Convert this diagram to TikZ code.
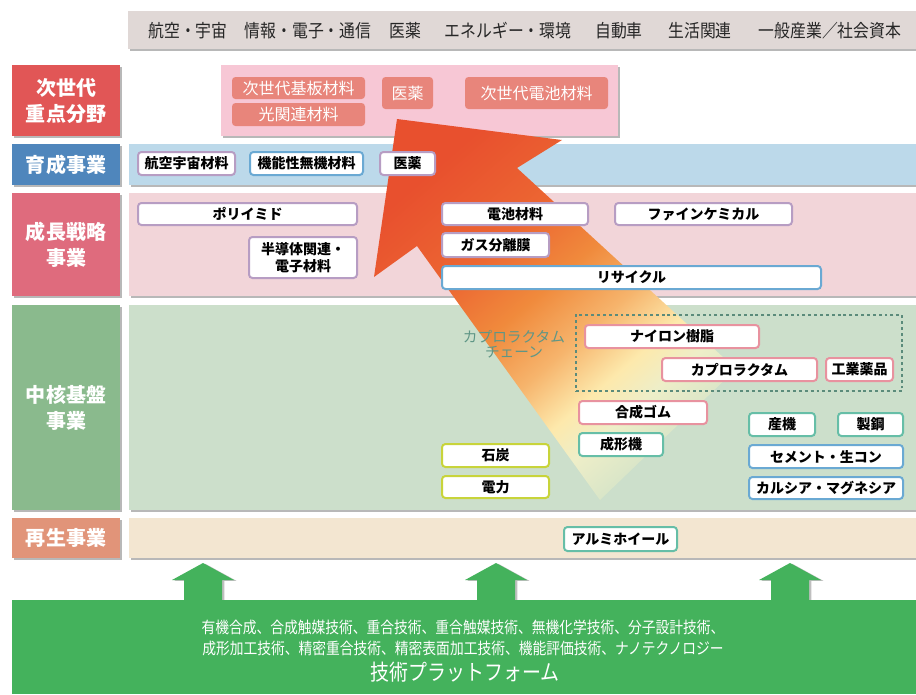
\documentclass[tikz,border=0pt]{standalone}
\usepackage{fontspec}
\setmainfont{Noto Sans CJK JP}
\newfontfamily\hdrfont[FakeStretch=0.88]{Noto Sans CJK JP}
\newfontfamily\btmfont[FakeStretch=0.86]{Noto Sans CJK JP}
\usetikzlibrary{shadows}
\definecolor{hdrgray}{HTML}{E0D8D6}
\definecolor{redlab}{HTML}{E15656}
\definecolor{bluelab}{HTML}{4F86BC}
\definecolor{pinklab}{HTML}{DF6B7D}
\definecolor{greenlab}{HTML}{8ABA8D}
\definecolor{salmonlab}{HTML}{E19479}
\definecolor{pinktop}{HTML}{F7C7D5}
\definecolor{salmonbox}{HTML}{E8857B}
\definecolor{blueband}{HTML}{BCD9EA}
\definecolor{pinkband}{HTML}{F2D5D9}
\definecolor{greenband}{HTML}{CCDFCB}
\definecolor{beigeband}{HTML}{F3E6D1}
\definecolor{platgreen}{HTML}{44B25C}
\definecolor{lav}{HTML}{B79DC3}
\definecolor{bluebd}{HTML}{6AA9D3}
\definecolor{pinkbd}{HTML}{E8929F}
\definecolor{tealbd}{HTML}{66BEA7}
\definecolor{ygbd}{HTML}{C8D43A}
\definecolor{dashgreen}{HTML}{5B8B7B}
\definecolor{chaintext}{HTML}{5F9686}
\definecolor{arA}{HTML}{E8502E}
\definecolor{arB}{HTML}{EC6632}
\definecolor{arC}{HTML}{F08A3C}
\definecolor{arD}{HTML}{F6B46C}
\definecolor{arE}{HTML}{FDE9AC}
\definecolor{arF}{HTML}{EEEEC8}
\definecolor{arG}{HTML}{D3E3C8}
\pgfdeclareverticalshading{bigarrow}{100bp}{color(0bp)=(arG); color(25bp)=(arG); color(33bp)=(arF); color(38bp)=(arE); color(45bp)=(arD); color(53bp)=(arC); color(62bp)=(arB); color(75bp)=(arA); color(100bp)=(arA)}
\begin{document}
\begin{tikzpicture}[x=0.75pt,y=-0.75pt,
  rect/.style n args={4}{anchor=center, at={({(#1+#3)/2},{(#2+#4)/2})}, minimum width={(#3-#1)*0.75pt}, minimum height={(#4-#2)*0.75pt}},
  band/.style={inner sep=0pt, outer sep=0pt, draw=none, drop shadow={shadow xshift=1.8pt, shadow yshift=-1.8pt, fill=black, opacity=0.28}},
  lab/.style={band, text=white, align=center, font=\bfseries\fontsize{15}{19.5}\selectfont},
  tbox/.style={draw, line width=1.5pt, rounded corners=2.6pt, fill=white, inner sep=0pt, align=center, text=black, font=\bfseries\fontsize{10.5}{12.6}\selectfont},
  sbox/.style={fill=salmonbox, rounded corners=2.6pt, inner sep=0pt, text=white, font=\fontsize{12}{14}\selectfont},
  hdr/.style={font=\hdrfont\fontsize{13.5}{16}\selectfont, text=black!85, inner sep=0pt},
  btm/.style={text=white, inner sep=0pt, font=\btmfont\fontsize{12}{14}\selectfont},
  uparrow/.style={fill=platgreen, drop shadow={shadow xshift=1.8pt, shadow yshift=-0.6pt, fill=black, opacity=0.25}}
]
\fill[white] (0,0) rectangle (916,694);
\useasboundingbox (0,0) rectangle (916,694);
% header
\node[band, fill=hdrgray, rect={128}{11}{916}{49}] (hdr) {};
\node[hdr] (h1) at (188,31) {航空・宇宙};
\node[hdr] (h2) at (308,31) {情報・電子・通信};
\node[hdr] (h3) at (405,31) {医薬};
\node[hdr] (h4) at (508,31) {エネルギー・環境};
\node[hdr] (h5) at (619,31) {自動車};
\node[hdr] (h6) at (700,31) {生活関連};
\node[hdr] (h7) at (830,31) {一般産業／社会資本};
% labels
\node[lab, fill=redlab, rect={12}{65}{120}{136}] (l1) {次世代\\重点分野};
\node[lab, fill=bluelab, rect={12}{144}{120}{185}] (l2) {育成事業};
\node[lab, fill=pinklab, rect={12}{193}{120}{296}] (l3) {成長戦略\\事業};
\node[lab, fill=greenlab, rect={12}{305}{120}{510}] (l4) {中核基盤\\事業};
\node[lab, fill=salmonlab, rect={12}{518}{120}{558}] (l5) {再生事業};
% bands
\node[band, fill=pinktop, rect={221}{65}{618}{136}] (b1) {};
\node[band, fill=blueband, rect={129}{144}{916}{185}] (b2) {};
\node[band, fill=pinkband, rect={129}{193}{916}{296}] (b3) {};
\node[band, fill=greenband, rect={129}{305}{916}{510}] (b4) {};
\node[band, fill=beigeband, rect={129}{518}{916}{558}] (b5) {};
% salmon boxes
\node[sbox, rect={232}{77}{365}{99}] (s1) {次世代基板材料};
\node[sbox, rect={232}{103}{365}{126}] (s2) {光関連材料};
\node[sbox, rect={382}{77}{433}{109}] (s3) {医薬};
\node[sbox, rect={465}{77}{608}{109}] (s4) {次世代電池材料};
% big arrow
\shade[shading=bigarrow, shading angle=41] (397,119) -- (562,140) -- (517,168) -- (736,369) -- (600,500) -- (417,246) -- (374,277) -- cycle;
% blue band boxes
\node[tbox, draw=lav, rect={138}{152}{235}{175}] (a1) {航空宇宙材料};
\node[tbox, draw=bluebd, rect={250}{152}{363}{175}] (a2) {機能性無機材料};
\node[tbox, draw=lav, rect={380}{152}{435}{175}] (a3) {医薬};
% pink band boxes
\node[tbox, draw=lav, rect={138}{203}{357}{225}] (p1) {ポリイミド};
\node[tbox, draw=lav, rect={249}{237}{357}{278}] (p2) {半導体関連・\\電子材料};
\node[tbox, draw=lav, rect={442}{203}{588}{225}] (p3) {電池材料};
\node[tbox, draw=lav, rect={615}{203}{792}{225}] (p4) {ファインケミカル};
\node[tbox, draw=lav, rect={442}{233}{549}{257}] (p5) {ガス分離膜};
\node[tbox, draw=bluebd, rect={442}{266}{821}{289}] (p6) {リサイクル};
% green band
\node[draw=dashgreen, dash pattern=on 2.2pt off 2.2pt, line width=1.6pt, inner sep=0pt, rect={576}{315}{902}{391}] (chain) {};
\node[text=chaintext, align=center, inner sep=0pt, font=\fontsize{11}{11.5}\selectfont] (cl) at (514,344) {カプロラクタム\\チェーン};
\node[tbox, draw=pinkbd, rect={585}{325}{759}{348}] (g1) {ナイロン樹脂};
\node[tbox, draw=pinkbd, rect={662}{358}{817}{381}] (g2) {カプロラクタム};
\node[tbox, draw=pinkbd, rect={826}{358}{893}{381}] (g3) {工業薬品};
\node[tbox, draw=pinkbd, rect={579}{401}{707}{424}] (g4) {合成ゴム};
\node[tbox, draw=tealbd, rect={579}{433}{663}{456}] (g5) {成形機};
\node[tbox, draw=ygbd, rect={442}{444}{549}{467}] (g6) {石炭};
\node[tbox, draw=ygbd, rect={442}{476}{549}{498}] (g7) {電力};
\node[tbox, draw=tealbd, rect={749}{413}{815}{436}] (g8) {産機};
\node[tbox, draw=tealbd, rect={838}{413}{903}{436}] (g9) {製鋼};
\node[tbox, draw=bluebd, rect={749}{445}{903}{468}] (g10) {セメント・生コン};
\node[tbox, draw=bluebd, rect={749}{477}{903}{499}] (g11) {カルシア・マグネシア};
% beige band
\node[tbox, draw=tealbd, rect={564}{527}{677}{551}] (r1) {アルミホイール};
% up arrows
\foreach \c in {203,496,790}
  \fill[uparrow] (\c-19,603) -- (\c-19,580) -- (\c-31,580) -- (\c,563) -- (\c+31,580) -- (\c+19,580) -- (\c+19,603) -- cycle;
% platform
\node[fill=platgreen, inner sep=0pt, rect={12}{600}{916}{694}] (plat) {};
\node[btm] (t1) at (463,627) {有機合成、合成触媒技術、重合技術、重合触媒技術、無機化学技術、分子設計技術、};
\node[btm] (t2) at (463,648) {成形加工技術、精密重合技術、精密表面加工技術、機能評価技術、ナノテクノロジー};
\node[btm, font=\btmfont\fontsize{16.5}{18}\selectfont] (t3) at (465,672) {技術プラットフォーム};
\end{tikzpicture}
\end{document}
